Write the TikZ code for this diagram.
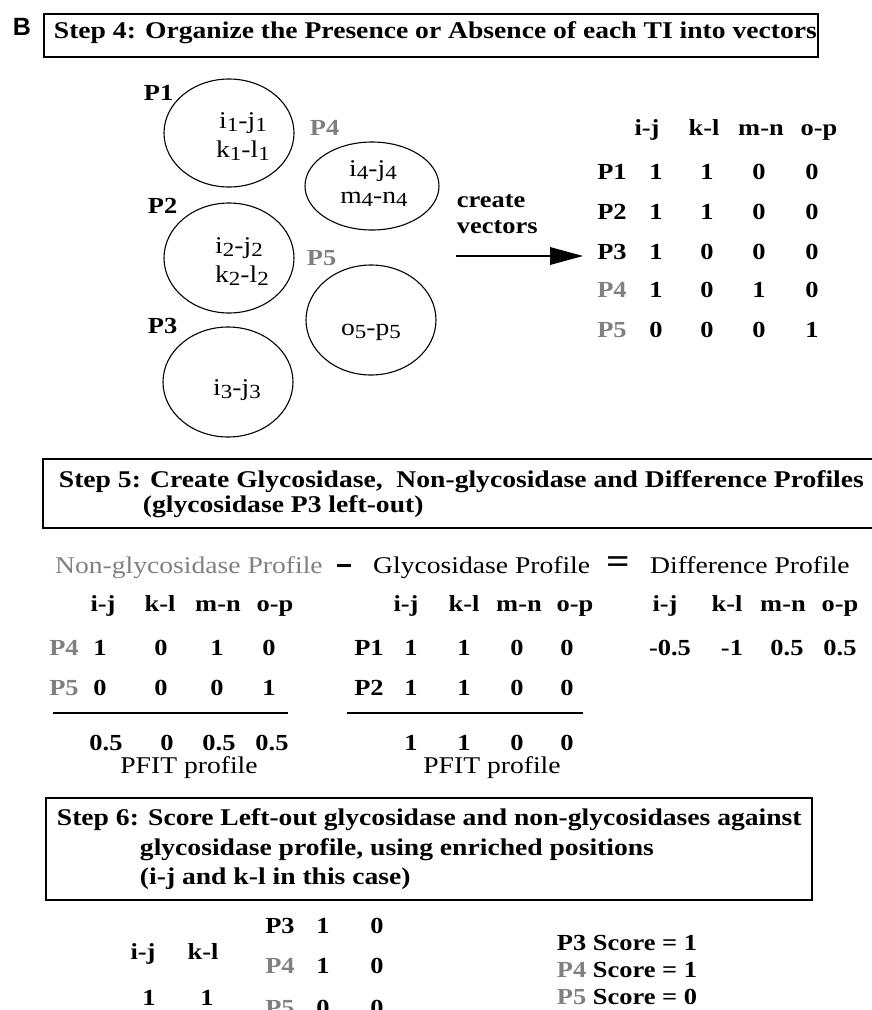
\documentclass[tikz,border=0pt]{standalone}
\usepackage{fontspec}
\setmainfont{Liberation Serif}[FakeStretch=1.15]
\newfontfamily\panelfont{Liberation Sans}
\usepackage{tikz}
\definecolor{ltgray}{RGB}{128,128,128}
\newcommand{\dn}[1]{\raisebox{-3.5pt}{\fontsize{20}{20}\selectfont #1}}

\begin{document}
\begin{tikzpicture}[x=1pt,y=1pt,yscale=-1,xscale=1,
  ttl/.style={font=\bfseries\fontsize{24}{28}\selectfont, anchor=base west, inner sep=0.75pt},
  bnum/.style={font=\bfseries\fontsize{23}{26}\selectfont, anchor=base, inner sep=0.75pt},
  rtxt/.style={font=\fontsize{24}{28}\selectfont, anchor=base, inner sep=0pt},
  dim/.style={text=ltgray},
  boxline/.style={line width=1.3}]
\useasboundingbox (0,0) rectangle (872,1010);

%Step 4
\draw (22,35) node [font=\panelfont\bfseries\fontsize{25}{25}\selectfont, anchor=base, inner sep=0.75pt] (panB) {B};
\draw [boxline] (44,14) rectangle (818,57);
\draw (53,38) node [ttl] (t4) {Step 4: Organize the Presence or Absence of each TI into vectors};

\draw [line width=1.1] (229,133) ellipse (65 and 54);
\draw [line width=1.1] (372,186) ellipse (67 and 44);
\draw [line width=1.1] (229,258) ellipse (65 and 55);
\draw [line width=1.1] (371,320) ellipse (65 and 55);
\draw [line width=1.1] (228,382) ellipse (65 and 55);

\draw (143,100) node [bnum, anchor=base west] (lP1) {P1};
\draw (309,135) node [bnum, anchor=base west, dim] (lP4) {P4};
\draw (147,213) node [bnum, anchor=base west] (lP2) {P2};
\draw (306,265) node [bnum, anchor=base west, dim] (lP5) {P5};
\draw (147,333) node [bnum, anchor=base west] (lP3) {P3};

\draw (243,128) node [rtxt] (e1a) {i\dn{1}-j\dn{1}};
\draw (243,157) node [rtxt] (e1b) {k\dn{1}-l\dn{1}};
\draw (373,176) node [rtxt] (e4a) {i\dn{4}-j\dn{4}};
\draw (374,203) node [rtxt] (e4b) {m\dn{4}-n\dn{4}};
\draw (239,253) node [rtxt] (e2a) {i\dn{2}-j\dn{2}};
\draw (242,282) node [rtxt] (e2b) {k\dn{2}-l\dn{2}};
\draw (371,335) node [rtxt] (e5a) {o\dn{5}-p\dn{5}};
\draw (237,395) node [rtxt] (e3a) {i\dn{3}-j\dn{3}};

\draw (456,207) node [bnum, anchor=base west] (cr1) {create};
\draw (456,233) node [bnum, anchor=base west] (cr2) {vectors};
\coordinate (arrS) at (456,256);
\coordinate (arrB) at (552,256);
\coordinate (arrE) at (583,256);
\draw [line width=2.8] (arrS) -- (arrB);
\fill [shift={(arrE)}] (0,0) -- (-33,-9) -- (-33,9) -- cycle;

\draw (647,135) node [bnum] (h1) {i-j};
\draw (704,135) node [bnum] (h2) {k-l};
\draw (761,135) node [bnum] (h3) {m-n};
\draw (819,135) node [bnum] (h4) {o-p};

\draw (612,179) node [bnum] (r1) {P1};
\draw (656,179) node [bnum] (m11) {1};
\draw (707,179) node [bnum] (m12) {1};
\draw (759,179) node [bnum] (m13) {0};
\draw (812,179) node [bnum] (m14) {0};
\draw (612,219) node [bnum] (r2) {P2};
\draw (656,219) node [bnum] (m21) {1};
\draw (707,219) node [bnum] (m22) {1};
\draw (759,219) node [bnum] (m23) {0};
\draw (812,219) node [bnum] (m24) {0};
\draw (612,259) node [bnum] (r3) {P3};
\draw (656,259) node [bnum] (m31) {1};
\draw (707,259) node [bnum] (m32) {0};
\draw (759,259) node [bnum] (m33) {0};
\draw (812,259) node [bnum] (m34) {0};
\draw (612,297) node [bnum, dim] (r4) {P4};
\draw (656,297) node [bnum] (m41) {1};
\draw (707,297) node [bnum] (m42) {0};
\draw (759,297) node [bnum] (m43) {1};
\draw (812,297) node [bnum] (m44) {0};
\draw (612,337) node [bnum, dim] (r5) {P5};
\draw (656,337) node [bnum] (m51) {0};
\draw (707,337) node [bnum] (m52) {0};
\draw (759,337) node [bnum] (m53) {0};
\draw (812,337) node [bnum] (m54) {1};

%Step 5
\draw [boxline] (880,459) -- (43,459) -- (43,528) -- (880,528);
\draw (58,487) node [ttl] (t5a) {Step 5: Create Glycosidase,~ Non-glycosidase and Difference Profiles};
\draw (142,512) node [ttl] (t5b) {(glycosidase P3 left-out)};

\draw (55,573) node [rtxt, anchor=base west, dim] (ngp) {Non-glycosidase Profile};
\draw (344,573) node [bnum] (minus) {\rule[6pt]{14pt}{3.5pt}};
\draw (373,573) node [rtxt, anchor=base west] (gp) {Glycosidase Profile};
\draw (618,573) node [bnum, font=\bfseries\fontsize{36}{36}\selectfont] (eq) {=};
\draw (650,573) node [rtxt, anchor=base west] (dp) {Difference Profile};

\draw (103,611) node [bnum] (nh1) {i-j};
\draw (160,611) node [bnum] (nh2) {k-l};
\draw (218,611) node [bnum] (nh3) {m-n};
\draw (275,611) node [bnum] (nh4) {o-p};
\draw (64,655) node [bnum, dim] (nr4) {P4};
\draw (100,655) node [bnum] (n41) {1};
\draw (161,655) node [bnum] (n42) {0};
\draw (217,655) node [bnum] (n43) {1};
\draw (269,655) node [bnum] (n44) {0};
\draw (64,695) node [bnum, dim] (nr5) {P5};
\draw (100,695) node [bnum] (n51) {0};
\draw (161,695) node [bnum] (n52) {0};
\draw (217,695) node [bnum] (n53) {0};
\draw (269,695) node [bnum] (n54) {1};
\coordinate (nL) at (53,713);
\coordinate (nR) at (288,713);
\draw [line width=1.1] (nL) -- (nR);
\draw (106,750) node [bnum] (ns1) {0.5};
\draw (167,750) node [bnum] (ns2) {0};
\draw (219,750) node [bnum] (ns3) {0.5};
\draw (272,750) node [bnum] (ns4) {0.5};
\draw (189,773) node [rtxt] (npf) {PFIT profile};

\draw (406,611) node [bnum] (gh1) {i-j};
\draw (464,611) node [bnum] (gh2) {k-l};
\draw (519,611) node [bnum] (gh3) {m-n};
\draw (575,611) node [bnum] (gh4) {o-p};
\draw (369,655) node [bnum] (gr1) {P1};
\draw (411,655) node [bnum] (g11) {1};
\draw (464,655) node [bnum] (g12) {1};
\draw (517,655) node [bnum] (g13) {0};
\draw (567,655) node [bnum] (g14) {0};
\draw (369,695) node [bnum] (gr2) {P2};
\draw (411,695) node [bnum] (g21) {1};
\draw (464,695) node [bnum] (g22) {1};
\draw (517,695) node [bnum] (g23) {0};
\draw (567,695) node [bnum] (g24) {0};
\coordinate (gL) at (347,713);
\coordinate (gR) at (583,713);
\draw [line width=1.1] (gL) -- (gR);
\draw (411,750) node [bnum] (gs1) {1};
\draw (464,750) node [bnum] (gs2) {1};
\draw (517,750) node [bnum] (gs3) {0};
\draw (567,750) node [bnum] (gs4) {0};
\draw (492,773) node [rtxt] (gpf) {PFIT profile};

\draw (665,611) node [bnum] (dh1) {i-j};
\draw (727,611) node [bnum] (dh2) {k-l};
\draw (783,611) node [bnum] (dh3) {m-n};
\draw (840,611) node [bnum] (dh4) {o-p};
\draw (670,655) node [bnum] (d1) {-0.5};
\draw (732,655) node [bnum] (d2) {-1};
\draw (787,655) node [bnum] (d3) {0.5};
\draw (840,655) node [bnum] (d4) {0.5};

%Step 6
\draw [boxline] (46,798) rectangle (812,900);
\draw (56,825) node [ttl] (t6a) {Step 6: Score Left-out glycosidase and non-glycosidases against};
\draw (139,855) node [ttl] (t6b) {glycosidase profile, using enriched positions};
\draw (139,884) node [ttl] (t6c) {(i-j and k-l in this case)};

\draw (143,959) node [bnum] (sh1) {i-j};
\draw (203,959) node [bnum] (sh2) {k-l};
\draw (149,1005) node [bnum] (sv1) {1};
\draw (207,1005) node [bnum] (sv2) {1};
\draw (280,933) node [bnum] (sr3) {P3};
\draw (323,933) node [bnum] (s31) {1};
\draw (377,933) node [bnum] (s32) {0};
\draw (280,973) node [bnum, dim] (sr4) {P4};
\draw (323,973) node [bnum] (s41) {1};
\draw (377,973) node [bnum] (s42) {0};
\draw (280,1015) node [bnum, dim] (sr5) {P5};
\draw (323,1015) node [bnum] (s51) {0};
\draw (377,1015) node [bnum] (s52) {0};

\draw (556,950) node [bnum, anchor=base west] (sc3) {P3 Score = 1};
\draw (556,977) node [bnum, anchor=base west] (sc4) {{\color{ltgray}P4} Score = 1};
\draw (556,1004) node [bnum, anchor=base west] (sc5) {{\color{ltgray}P5} Score = 0};
\end{tikzpicture}
\end{document}
